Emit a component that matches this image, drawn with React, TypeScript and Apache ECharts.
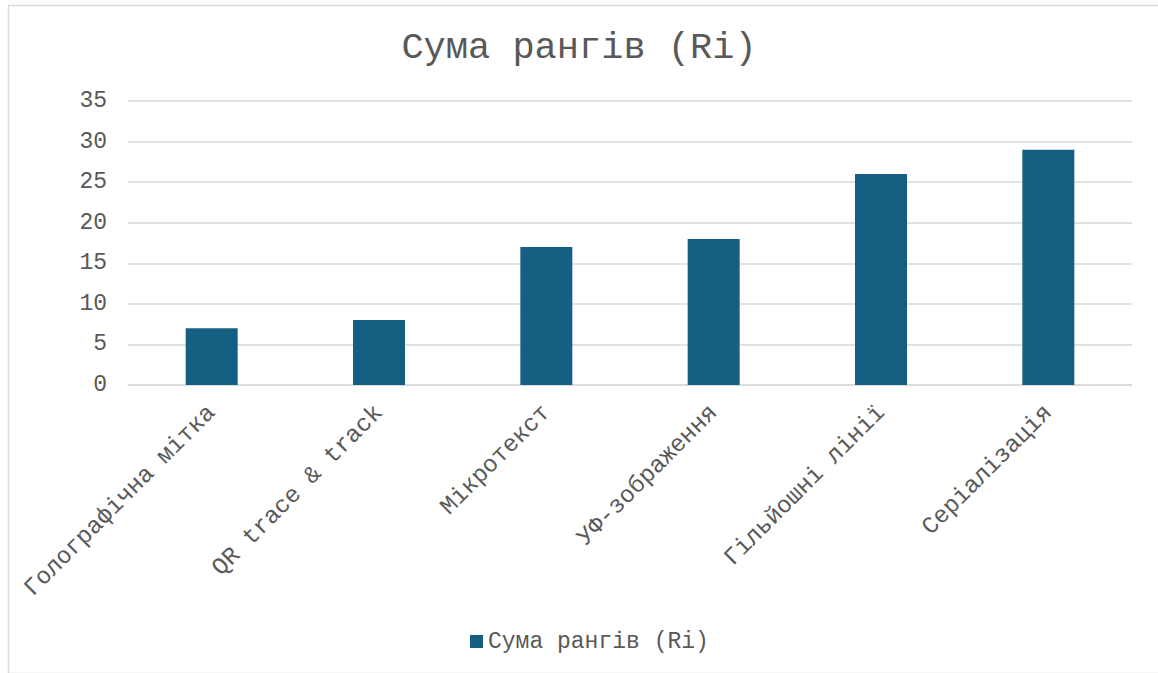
import React, { useEffect, useRef } from "react";
import * as echarts from "echarts";

const categories = [
  "Голографічна мітка",
  "QR trace & track",
  "Мікротекст",
  "УФ-зображення",
  "Гільйошні лінії",
  "Серіалізація",
];
const values = [7, 8, 17, 18, 26, 29];
const seriesName = "Сума рангів (Ri)";
const titleText = "Сума рангів (Ri)";

const FONT = "'Liberation Mono', 'Courier New', monospace";
const TEXT = "#595959";
const GRID = "#d9d9d9";
const BAR = "#156082";

export default function App() {
  const ref = useRef<HTMLDivElement>(null);
  useEffect(() => {
    if (!ref.current) return;
    const chart = echarts.init(ref.current, undefined, { renderer: "svg" });
    chart.setOption({
      animation: false,
      backgroundColor: "#ffffff",
      title: {
        text: titleText,
        left: "center",
        top: 29,
        padding: 0,
        textStyle: { fontFamily: FONT, fontSize: 37, fontWeight: "normal", color: TEXT },
      },
      graphic: [
        {
          type: "rect",
          shape: { x: 8.5, y: 5.5, width: 1160, height: 668 },
          style: { fill: "none", stroke: GRID, lineWidth: 1.5 },
          silent: true,
        },
      ],
      legend: {
        data: [seriesName],
        left: 465,
        top: 625,
        itemWidth: 13,
        itemHeight: 13,
        icon: "rect",
        itemGap: 5,
        textStyle: { fontFamily: FONT, fontSize: 23, color: TEXT, padding: [0, 0, 0, 0] },
      },
      grid: { left: 128, right: 26, top: 101, bottom: 288, containLabel: false },
      xAxis: {
        type: "category",
        data: categories,
        axisLine: { show: true, lineStyle: { color: GRID, width: 1.5 } },
        axisTick: { show: false },
        axisLabel: {
          rotate: 45,
          interval: 0,
          margin: 24,
          fontFamily: FONT,
          fontSize: 24,
          color: TEXT,
        },
      },
      yAxis: {
        type: "value",
        min: 0,
        max: 35,
        interval: 5,
        axisLine: { show: false },
        axisTick: { show: false },
        splitLine: { lineStyle: { color: GRID, width: 1.5 } },
        axisLabel: { margin: 21, fontFamily: FONT, fontSize: 23, color: TEXT },
      },
      series: [
        {
          name: seriesName,
          type: "bar",
          data: values,
          barWidth: 52,
          itemStyle: { color: BAR },
        },
      ],
    });
    return () => chart.dispose();
  }, []);
  return (
    <div
      ref={ref}
      style={{ position: "absolute", left: 0, top: 0, width: 1158, height: 673 }}
    />
  );
}
